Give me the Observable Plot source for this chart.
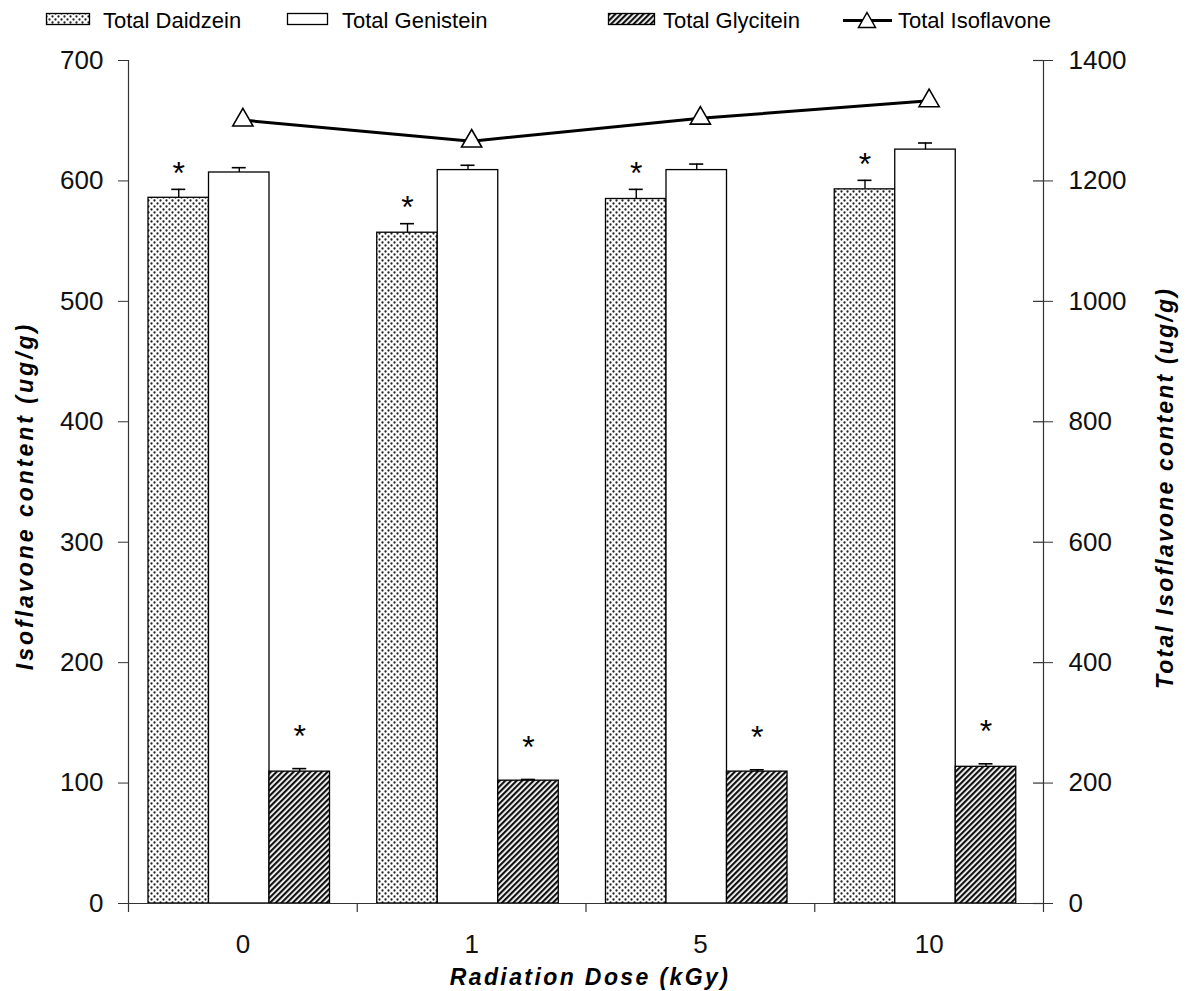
<!DOCTYPE html>
<html><head><meta charset="utf-8">
<script src="https://cdn.jsdelivr.net/npm/d3@7"></script>
<script src="https://cdn.jsdelivr.net/npm/@observablehq/plot@0.6"></script>
<style>
body{margin:0;background:#fff;font-family:"Liberation Sans",Arial,sans-serif;}
#wrap{position:relative;width:1187px;height:991px;background:#fff;}
#legend{position:absolute;left:0;top:0;}
#chart{position:absolute;left:0;top:40px;}
</style></head><body>
<div id="wrap"><svg id="legend" width="1187" height="40"></svg><div id="chart"></div></div>
<script>
// ---- data ----
const doses = ["0", "1", "5", "10"];
const series = ["Total Daidzein", "Total Genistein", "Total Glycitein"];
const daidzein = [586, 557, 585, 593];
const daidzeinErr = [7, 7.5, 8, 7.5];
const genistein = [607, 609, 609, 626];
const genisteinErr = [4, 4, 5, 5.5];
const glycitein = [109.5, 102, 109.5, 113.5];
const glyciteinErr = [2.5, 1, 1.5, 2.5];
const daidzeinStar = ["*", "*", "*", "*"];
const genisteinStar = ["", "", "", ""];
const glyciteinStar = ["*", "*", "*", "*"];
const totalIsoflavone = [1301, 1266, 1304, 1333];
const totalName = "Total Isoflavone";
const leftTicks = [0, 100, 200, 300, 400, 500, 600, 700];
const rightTicks = [0, 200, 400, 600, 800, 1000, 1200, 1400];
const titles = {left: "Isoflavone content (ug/g)", right: "Total Isoflavone content (ug/g)", x: "Radiation Dose (kGy)"};

// ---- layout ----
const W = 1187, H = 951, mL = 128, mR = 144, mT = 20, mB = 88;
const bw = (W - mL - mR) / doses.length;
const gapL = bw * 0.0874, barW = bw * 0.2645;
const font = "Liberation Sans, Arial, Helvetica, sans-serif";
const fills = ["url(#pDots)", "#ffffff", "url(#pHatch)"];
const starDy = [-16, -33, -32];

const vals = [daidzein, genistein, glycitein];
const errs = [daidzeinErr, genisteinErr, glyciteinErr];
const stars = [daidzeinStar, genisteinStar, glyciteinStar];
const rows = doses.flatMap((d, i) => series.map((s, j) => ({dose: d, series: s, j, value: vals[j][i], err: errs[j][i], star: stars[j][i]})));
const totals = doses.map((d, i) => ({dose: d, total: totalIsoflavone[i]}));

// ---- pattern defs (in legend svg) ----
const leg = d3.select("#legend");
const defs = leg.append("defs");
const pd = defs.append("pattern").attr("id", "pDots").attr("width", 6).attr("height", 6).attr("patternUnits", "userSpaceOnUse");
pd.append("rect").attr("width", 6).attr("height", 6).attr("fill", "#fff");
pd.append("circle").attr("cx", 1.5).attr("cy", 1.5).attr("r", 1.15).attr("fill", "#222");
pd.append("circle").attr("cx", 4.5).attr("cy", 4.5).attr("r", 1.15).attr("fill", "#222");
const ph = defs.append("pattern").attr("id", "pHatch").attr("width", 4).attr("height", 4).attr("patternUnits", "userSpaceOnUse").attr("patternTransform", "rotate(45)");
ph.append("rect").attr("width", 4).attr("height", 4).attr("fill", "#fff");
ph.append("rect").attr("width", 2.2).attr("height", 4).attr("fill", "#111");

// ---- legend ----
const legItems = [
  {name: series[0], fill: fills[0], x0: 46.5, w: 43, tx: 103},
  {name: series[1], fill: fills[1], x0: 287.5, w: 40, tx: 342},
  {name: series[2], fill: fills[2], x0: 608.5, w: 46, tx: 663}
];
legItems.forEach(it => {
  leg.append("rect").attr("x", it.x0).attr("y", 13.5).attr("width", it.w).attr("height", 11).attr("fill", it.fill).attr("stroke", "#000").attr("stroke-width", 1.3);
  leg.append("text").attr("x", it.tx).attr("y", 28).attr("font-size", 22).attr("font-family", font).text(it.name);
});
leg.append("line").attr("x1", 843).attr("x2", 892).attr("y1", 20.5).attr("y2", 20.5).attr("stroke", "#000").attr("stroke-width", 3);
leg.append("path").attr("d", "M867,12.5L875.5,27.5L858.5,27.5Z").attr("fill", "#fff").attr("stroke", "#000").attr("stroke-width", 1.5);
leg.append("text").attr("x", 898).attr("y", 28).attr("font-size", 22).attr("font-family", font).text(totalName);

// ---- marks ----
const marks = [];
series.forEach((s, j) => {
  const rj = rows.filter(r => r.j === j);
  const c = gapL + (j + 0.5) * barW; // bar centre within band
  marks.push(Plot.barY(rj, {x: "dose", y: "value", fill: fills[j], stroke: "#000", strokeWidth: 1.3,
    insetLeft: gapL + j * barW, insetRight: bw - gapL - (j + 1) * barW}));
  marks.push(Plot.ruleX(rj, {x: "dose", y1: "value", y2: d => d.value + d.err, dx: c - bw / 2, stroke: "#000", strokeWidth: 1.4}));
  marks.push(Plot.tickY(rj, {x: "dose", y: d => d.value + d.err, insetLeft: c - 7, insetRight: bw - c - 7, stroke: "#000", strokeWidth: 1.6}));
  marks.push(Plot.text(rj.filter(r => r.star), {x: "dose", y: d => d.value + d.err, text: "star", dx: c - bw / 2, dy: starDy[j], fontSize: 32, fill: "#000", lineAnchor: "middle"}));
});

// axis lines & ticks
marks.push(Plot.ruleY([0], {stroke: "#333", strokeWidth: 1.2}));
marks.push(Plot.ruleX([doses[0]], {x: d => d, dx: -bw / 2, y1: 0, y2: 700, stroke: "#333", strokeWidth: 1.2}));
marks.push(Plot.ruleX([doses[doses.length - 1]], {x: d => d, dx: bw / 2, y1: 0, y2: 700, stroke: "#333", strokeWidth: 1.2}));
marks.push(Plot.ruleX(doses, {x: d => d, dx: -bw / 2, y1: 0, y2: -7.5, stroke: "#333", strokeWidth: 1.2}));
marks.push(Plot.ruleX([doses[doses.length - 1]], {x: d => d, dx: bw / 2, y1: 0, y2: -7.5, stroke: "#333", strokeWidth: 1.2}));
marks.push(Plot.tickY(rightTicks, {y: d => d / 2, x: () => doses[doses.length - 1], insetLeft: bw - 10, stroke: "#333", strokeWidth: 1.2}));

marks.push(Plot.axisY({anchor: "left", ticks: leftTicks, tickSize: 10, tickPadding: 15, fontSize: 26, label: null, stroke: "#333", color: "#111"}));
marks.push(Plot.axisY(rightTicks.map(v => v / 2), {anchor: "right", tickSize: 9, tickPadding: 16, tickFormat: d => String(d * 2), fontSize: 26, label: null, stroke: "#333", color: "#111"}));
marks.push(Plot.axisX({anchor: "bottom", tickSize: 0, tickPadding: 31, fontSize: 26, label: null, color: "#111"}));

// total isoflavone line (right axis: 0-1400 on same height as 0-700)
marks.push(Plot.line(totals, {x: "dose", y: d => d.total / 2, stroke: "#000", strokeWidth: 3}));
marks.push(Plot.dot(totals, {x: "dose", y: d => d.total / 2, symbol: "triangle", r: 7.5, fill: "#fff", stroke: "#000", strokeWidth: 1.6}));

// titles
const titleStyle = {fontSize: 23, fontWeight: "bold", fontStyle: "italic", fill: "#000", textAnchor: "middle", lineAnchor: "middle"};
marks.push(Plot.text([titles.left], {...titleStyle, text: d => d, frameAnchor: "left", rotate: -90, dx: -103, dy: 14}));
marks.push(Plot.text([titles.right], {...titleStyle, text: d => d, frameAnchor: "right", rotate: -90, dx: 122, dy: 6}));
marks.push(Plot.text([titles.x], {...titleStyle, text: d => d, frameAnchor: "bottom", dx: 4, dy: 74}));

const chart = Plot.plot({
  width: W, height: H, marginLeft: mL, marginRight: mR, marginTop: mT, marginBottom: mB,
  style: {fontFamily: font, background: "#fff", color: "#000", overflow: "visible"},
  x: {type: "band", domain: doses, padding: 0, round: false, axis: null},
  y: {domain: [0, 700], axis: null},
  marks
});
// letter spacing for the wide axis titles
d3.select(chart).selectAll("text").each(function () {
  const t = this.textContent;
  if (t === titles.left) this.setAttribute("letter-spacing", "3");
  else if (t === titles.right) this.setAttribute("letter-spacing", "2.2");
  else if (t === titles.x) this.setAttribute("letter-spacing", "2.4");
});
document.getElementById("chart").appendChild(chart);
</script>
</body></html>
